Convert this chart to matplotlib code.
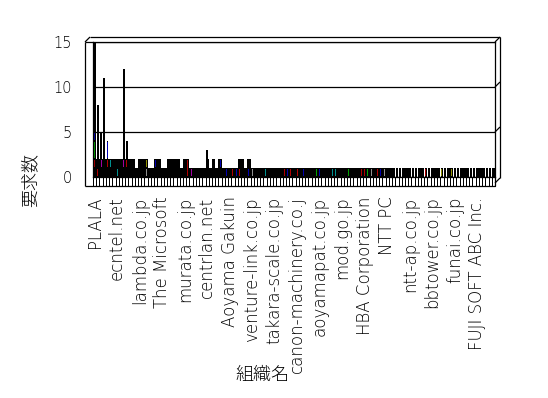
"""
Requests per organisation, drawn like the old 3D column chart.
"""

import numpy as np
import matplotlib
matplotlib.use('Agg')
import matplotlib.pyplot as plt


### Data

# number of requests per organisation (125 organisations, sorted)
counts = [15, 8, 5, 11, 4, 2, 2, 2, 2, 12,
          4, 2, 2, 1, 2, 2, 2, 1, 1, 2,
          2, 1, 1, 2, 2, 2, 2, 1, 2, 2,
          1, 1, 1, 1, 1, 3, 1, 2, 1, 2,
          1, 1, 1, 1, 1, 2, 2, 1, 2] + [1] * 76

# only every 7th organisation gets a label
tick_labels = ['PLALA', 'ecntel.net', 'lambda.co.jp', 'The Microsoft',
               'murata.co.jp', 'centrlan.net', 'Aoyama Gakuin',
               'venture-link.co.jp', 'takara-scale.co.jp',
               'canon-machinery.co.j', 'aoyamapat.co.jp', 'mod.go.jp',
               'HBA Corporation', 'NTT PC', 'ntt-ap.co.jp', 'bbtower.co.jp',
               'funai.co.jp', 'FUJI SOFT ABC Inc.']

# coloured series fills that show through the black bar borders
stripe_idx = [0, 0, 0, 1, 2, 4, 4, 5, 7, 9, 10, 11, 16, 16, 19, 29, 30,
              39, 41, 43, 44, 45, 48, 49, 53, 59, 60, 61, 62, 63, 65, 69,
              70, 74, 75, 79, 83, 84, 85, 86, 88, 89, 90, 103, 108, 111, 113]
stripe_lo = [4, 2, 1, 0, 1, 2, 1, 1, 0, 1, 1, 0, 1, 0, 1, 0, 0,
             1, 0, 0, 0, 0, 0, 0, 0, 0, 0, 0, 0, 0, 0, 0,
             0, 0, 0, 0, 0, 0, 0, 0, 0, 0, 0, 0, 0, 0, 0]
stripe_hi = [5, 4, 2, 1, 2, 4, 2, 2, 1, 2, 2, 1, 2, 1, 2, 2, 1,
             2, 1, 1, 1, 1, 1, 1, 1, 1, 1, 1, 1, 1, 1, 1,
             1, 1, 1, 1, 1, 1, 1, 1, 1, 1, 1, 1, 1, 1, 1]
stripe_col = ['b', 'g', 'r', 'r', 'm', 'b', 'r', 't', 't', 'm', 'r', 'g',
              'o', 'k', 'b', 'r', 'm', 'b', 'b', 'r', 'b', 'r', 'b', 'k',
              't', 'r', 'b', 'r', 't', 'r', 'b', 'g', 'b', 't', 't', 'g',
              'r', 'r', 'g', 'k', 'r', 'b', 'k', 'r', 'o', 'o', 'g']
palette = {'r': '#b00000', 'g': '#00a000', 'b': '#0000b0', 'm': '#a000a0',
           't': '#009090', 'k': '#909090', 'o': '#909000'}

x = np.arange(len(counts))
counts = np.array(counts)


### Plot

W, H = 548, 398
fig = plt.figure(figsize=(W / 100, H / 100), dpi=100)

# back wall of the 3D box (pixel layout of the original)
L, R, T, B = 93, 495, 42, 177
ax = fig.add_axes([L / W, 1 - B / H, (R - L) / W, (B - T) / H])

# solid lower part, thin columns on top
base_w = np.where(x < 92, 1.0, 0.8)
ax.bar(x, np.minimum(counts, 2), width=base_w, color='k', lw=0,
       antialiased=False)
ax.bar(x, counts, width=0.6, color='k', lw=0, antialiased=False)

lo = np.array(stripe_lo) + 0.12
hi = np.array(stripe_hi) - 0.08
ax.bar(stripe_idx, hi - lo, bottom=lo, width=0.3,
       color=[palette[c] for c in stripe_col], lw=0, antialiased=False)

# floor ticks
ax.vlines(np.arange(len(counts) + 1) - 0.5, -1.0, -0.1, color='k', lw=0.5,
          clip_on=False, antialiased=False)

ax.set_xlim(-0.5, len(counts) - 0.5)
ax.set_ylim(0, 15)
ax.set_yticks([0, 5, 10, 15])
ax.set_yticklabels(['0', '5', '10', '15'], fontsize=10.5,
                   family='DejaVu Sans', weight='light')
ax.set_xticks(x[::7])
ax.set_xticklabels(tick_labels, rotation=90, fontsize=12,
                   family='DejaVu Sans', weight='light')
ax.tick_params(axis='x', length=0, pad=14)
ax.tick_params(axis='y', length=0, pad=15)
ax.yaxis.grid(True, color='k', lw=0.9)
ax.set_axisbelow(True)
for s in ax.spines.values():
    s.set_linewidth(0.9)

# remaining edges of the box, in figure pixels
fax = fig.add_axes([0, 0, 1, 1])
fax.set_xlim(0, W)
fax.set_ylim(H, 0)
fax.axis('off')
fax.patch.set_alpha(0)
edges = [((85, 85), (42, 186)), ((85, 495), (186, 186)),
         ((495, 495), (177, 186)), ((500, 495), (178, 183)),
         ((500, 500), (37, 178)), ((90, 500), (37, 37)),
         ((85, 90), (42, 37)), ((85, 93), (42, 42))]
for yg in (42, 87, 132):
    edges.append(((495, 500), (yg, yg - 5)))
for ex, ey in edges:
    fax.plot(ex, ey, c='k', lw=0.9, solid_capstyle='butt')

jp = ['Noto Sans CJK JP', 'DejaVu Sans']
fig.text(30 / W, 1 - 180 / H, '要求数', rotation=90, ha='center',
         va='center', fontsize=13, family=jp, weight='light')
fig.text(262 / W, 1 - 375 / H, '組織名', ha='center', va='center',
         fontsize=13, family=jp, weight='light')

fig.savefig('out.png', dpi=100)
